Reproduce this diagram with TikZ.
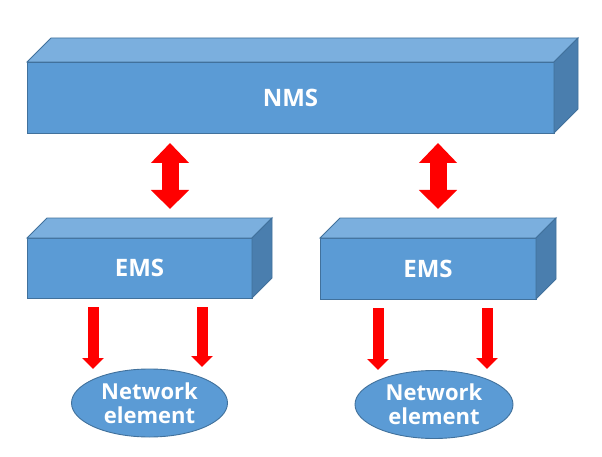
\documentclass[tikz,border=0pt]{standalone}
\usepackage{fontspec}
\setmainfont{Open Sans}
\usetikzlibrary{arrows.meta,shapes.geometric,calc}
\definecolor{frontc}{HTML}{5B9BD5}
\definecolor{topc}{HTML}{7BAFDE}
\definecolor{sidec}{HTML}{4A7EAE}
\definecolor{edgec}{HTML}{41719C}
\tikzset{
  face/.style={draw=edgec, line width=0.9pt, line join=miter},
  boxfront/.style={face, fill=frontc, rectangle, inner sep=0pt, outer sep=0pt,
     text=white, font=\fontsize{24}{28}\selectfont\bfseries},
  nebox/.style={draw=edgec, line width=0.9pt, fill=frontc, ellipse, inner sep=0pt, outer sep=0pt,
     minimum width=156pt, minimum height=68pt, text=white, align=center,
     font=\fontsize{22}{24}\selectfont\bfseries},
  dblarrow/.style={red, line width=17pt, {Triangle[width=37pt,length=20pt]}-{Triangle[width=37pt,length=19pt]}},
  downarrow/.style={red, line width=11pt, -{Triangle[width=21pt,length=11pt]}},
}
\newcommand{\cubetop}[2]{% node, depth
  \filldraw[face, fill=topc] (#1.north west) -- ++(#2,-#2) -- ($(#1.north east)+(#2,-#2)$) -- (#1.north east) -- cycle;
  \filldraw[face, fill=sidec] (#1.north east) -- ++(#2,-#2) -- ($(#1.south east)+(#2,-#2)$) -- (#1.south east) -- cycle;
}
\begin{document}
\begin{tikzpicture}[x=1pt,y=-1pt]
\useasboundingbox (0,0) rectangle (602,457);
% NMS
\node[boxfront, minimum width=527pt, minimum height=71pt] (nms) at (290.5,97.5) {NMS};
\cubetop{nms}{24}
% EMS left
\node[boxfront, minimum width=225pt, minimum height=60pt] (emsl) at (139.5,268) {EMS};
\cubetop{emsl}{20}
% EMS right
\node[boxfront, minimum width=216pt, minimum height=61pt] (emsr) at (428,268.5) {EMS};
\cubetop{emsr}{20}
% Network elements
\node[nebox] (nel) at (149.5,403) {Network\\element};
\node[nebox, minimum width=158pt] (ner) at (434,404.5) {Network\\element};
% double arrows
\coordinate (dlt) at (170,143); \coordinate (dlb) at (170,209);
\coordinate (drt) at (438,143); \coordinate (drb) at (438,209);
\draw[dblarrow] (dlt) -- (dlb);
\draw[dblarrow] (drt) -- (drb);
% down arrows
\coordinate (a1t) at (93,307);  \coordinate (a1b) at (93,369);
\coordinate (a2t) at (202,307); \coordinate (a2b) at (202,367);
\coordinate (a3t) at (378,308); \coordinate (a3b) at (378,370);
\coordinate (a4t) at (487,308); \coordinate (a4b) at (487,369);
\draw[downarrow] (a1t) -- (a1b);
\draw[downarrow] (a2t) -- (a2b);
\draw[downarrow] (a3t) -- (a3b);
\draw[downarrow] (a4t) -- (a4b);
\end{tikzpicture}
\end{document}
